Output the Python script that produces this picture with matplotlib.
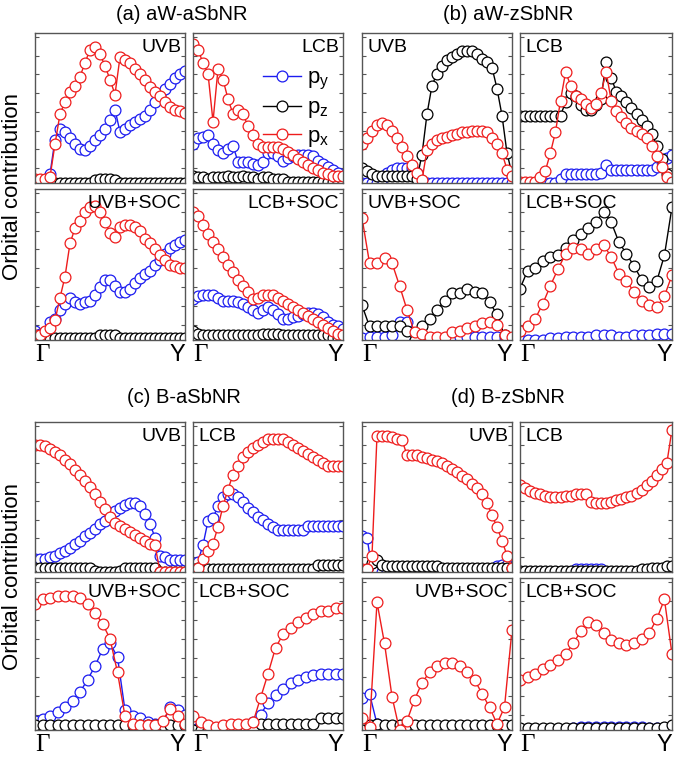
import matplotlib
matplotlib.use("Agg")
import matplotlib.pyplot as plt
import numpy as np

plt.rcParams['font.family'] = ['Liberation Sans', 'DejaVu Sans']
plt.rcParams['mathtext.default'] = 'regular'

# ---- data (relative orbital weight, 0..1 of panel height) ----
# (a) aW-aSbNR
a_uvb_py = [0.0, 0.0, 0.0, 0.06, 0.29, 0.36, 0.34, 0.30, 0.26, 0.23, 0.22, 0.25, 0.29, 0.32, 0.36, 0.42,
            0.49, 0.34, 0.36, 0.39, 0.41, 0.43, 0.45, 0.49, 0.54, 0.59, 0.63, 0.66, 0.70, 0.73, 0.75]
a_uvb_pz = [0.01, 0.01, 0.01, 0.01, 0.0, 0.0, 0.0, 0.0, 0.0, 0.0, 0.0, 0.0, 0.02, 0.03, 0.03, 0.03,
            0.02, 0.0, 0.0, 0.0, 0.0, 0.0, 0.0, 0.0, 0.0, 0.0, 0.0, 0.0, 0.0, 0.0, 0.0]
a_uvb_px = [0.03, 0.03, 0.03, 0.04, 0.26, 0.46, 0.54, 0.61, 0.65, 0.71, 0.80, 0.89, 0.91, 0.86, 0.78, 0.69,
            0.59, 0.84, 0.82, 0.80, 0.76, 0.73, 0.69, 0.64, 0.61, 0.58, 0.54, 0.51, 0.49, 0.48, 0.47]

a_lcb_py = [0.26, 0.30, 0.31, 0.32, 0.26, 0.22, 0.20, 0.23, 0.25, 0.14, 0.14, 0.14, 0.13, 0.12, 0.14, 0.20,
            0.20, 0.18, 0.15, 0.17, 0.18, 0.19, 0.19, 0.19, 0.18, 0.15, 0.13, 0.11, 0.09, 0.07, 0.04]
a_lcb_pz = [0.05, 0.04, 0.04, 0.03, 0.04, 0.04, 0.04, 0.05, 0.04, 0.04, 0.05, 0.04, 0.04, 0.03, 0.04, 0.04,
            0.03, 0.03, 0.03, 0.01, 0.01, 0.01, 0.01, 0.01, 0.01, 0.01, 0.01, 0.01, 0.01, 0.01, 0.01]
a_lcb_px = [0.93, 0.89, 0.80, 0.73, 0.41, 0.76, 0.69, 0.56, 0.46, 0.49, 0.46, 0.38, 0.32, 0.26, 0.24, 0.24,
            0.24, 0.24, 0.23, 0.21, 0.19, 0.16, 0.14, 0.12, 0.10, 0.09, 0.07, 0.06, 0.05, 0.05, 0.05]

a_uvbs_py = [0.06, 0.04, 0.05, 0.12, 0.14, 0.20, 0.24, 0.28, 0.25, 0.24, 0.25, 0.26, 0.30, 0.35, 0.40, 0.40,
             0.36, 0.32, 0.32, 0.34, 0.38, 0.41, 0.44, 0.46, 0.50, 0.53, 0.57, 0.61, 0.63, 0.65, 0.66]
a_uvbs_pz = [0.0, 0.0, 0.0, 0.0, 0.01, 0.01, 0.01, 0.01, 0.01, 0.01, 0.01, 0.01, 0.01, 0.03, 0.03, 0.03,
             0.03, 0.01, 0.01, 0.01, 0.01, 0.01, 0.01, 0.01, 0.01, 0.01, 0.01, 0.01, 0.01, 0.01, 0.01]
a_uvbs_px = [0.03, 0.03, 0.06, 0.08, 0.13, 0.28, 0.42, 0.64, 0.74, 0.79, 0.85, 0.88, 0.89, 0.85, 0.78, 0.71,
             0.68, 0.75, 0.76, 0.76, 0.75, 0.72, 0.67, 0.64, 0.60, 0.56, 0.53, 0.50, 0.49, 0.48, 0.48]

a_lcbs_py = [0.27, 0.29, 0.30, 0.30, 0.30, 0.28, 0.26, 0.26, 0.26, 0.25, 0.24, 0.22, 0.20, 0.18, 0.20, 0.22,
             0.20, 0.17, 0.14, 0.14, 0.15, 0.16, 0.17, 0.18, 0.18, 0.17, 0.15, 0.12, 0.10, 0.09, 0.07]
a_lcbs_pz = [0.06, 0.04, 0.03, 0.03, 0.03, 0.03, 0.03, 0.03, 0.03, 0.03, 0.03, 0.03, 0.03, 0.03, 0.04, 0.04,
             0.04, 0.04, 0.03, 0.03, 0.03, 0.03, 0.03, 0.03, 0.03, 0.03, 0.03, 0.03, 0.01, 0.01, 0.01]
a_lcbs_px = [0.85, 0.82, 0.76, 0.70, 0.65, 0.60, 0.55, 0.50, 0.45, 0.40, 0.36, 0.32, 0.27, 0.28, 0.30, 0.30,
             0.30, 0.28, 0.26, 0.24, 0.22, 0.20, 0.18, 0.16, 0.14, 0.12, 0.10, 0.08, 0.06, 0.04, 0.03]

# (b) aW-zSbNR
b_uvb_py = [0.0, 0.0, 0.0, 0.0, 0.03, 0.07, 0.09, 0.10, 0.10, 0.10, 0.10, 0.07, 0.0, 0.0, 0.0, 0.0,
            0.0, 0.0, 0.0, 0.0, 0.0, 0.0, 0.0, 0.0, 0.0, 0.0, 0.0, 0.0, 0.0, 0.0, 0.0]
b_uvb_pz = [0.10, 0.08, 0.06, 0.05, 0.05, 0.05, 0.05, 0.05, 0.05, 0.05, 0.05, 0.03, 0.19, 0.46, 0.65, 0.73,
            0.78, 0.82, 0.84, 0.86, 0.88, 0.88, 0.88, 0.86, 0.83, 0.81, 0.77, 0.63, 0.45, 0.20, 0.06]
b_uvb_px = [0.26, 0.30, 0.35, 0.39, 0.40, 0.39, 0.35, 0.30, 0.24, 0.18, 0.12, 0.07, 0.02, 0.22, 0.26, 0.29,
            0.30, 0.31, 0.32, 0.33, 0.34, 0.34, 0.35, 0.35, 0.35, 0.34, 0.30, 0.26, 0.20, 0.09, 0.05]

b_lcb_py = [0.0, 0.0, 0.0, 0.0, 0.0, 0.0, 0.0, 0.0, 0.03, 0.06, 0.06, 0.06, 0.06, 0.06, 0.06, 0.06,
            0.07, 0.12, 0.09, 0.09, 0.09, 0.09, 0.09, 0.09, 0.09, 0.09, 0.09, 0.11, 0.14, 0.17, 0.19]
b_lcb_pz = [0.45, 0.45, 0.45, 0.45, 0.45, 0.45, 0.45, 0.45, 0.45, 0.54, 0.60, 0.58, 0.52, 0.49, 0.49, 0.52,
            0.56, 0.81, 0.70, 0.61, 0.58, 0.54, 0.50, 0.46, 0.42, 0.38, 0.33, 0.25, 0.16, 0.06, 0.02]
b_lcb_px = [0.01, 0.01, 0.01, 0.01, 0.04, 0.08, 0.20, 0.34, 0.55, 0.74, 0.65, 0.58, 0.56, 0.53, 0.50, 0.53,
            0.60, 0.74, 0.55, 0.48, 0.44, 0.40, 0.37, 0.35, 0.33, 0.30, 0.25, 0.18, 0.11, 0.04, 0.01]

b_uvbs_py = [0.01, 0.02, 0.02, 0.02, 0.03, 0.12, 0.12, 0.0, 0.0, 0.0, 0.0, 0.0, 0.0, 0.02, 0.02, 0.02,
             0.02, 0.02, 0.02, 0.01, 0.0]
b_uvbs_pz = [0.23, 0.09, 0.09, 0.09, 0.09, 0.09, 0.06, 0.0, 0.09, 0.14, 0.20, 0.26, 0.31, 0.31, 0.34, 0.32,
             0.31, 0.25, 0.17, 0.03, 0.0]
b_uvbs_px = [0.81, 0.51, 0.51, 0.54, 0.51, 0.36, 0.20, 0.05, 0.04, 0.02, 0.02, 0.02, 0.05, 0.06, 0.08, 0.09,
             0.11, 0.12, 0.10, 0.03, 0.02]

b_lcbs_py = [0.0, 0.0, 0.0, 0.0, 0.01, 0.01, 0.02, 0.02, 0.02, 0.02, 0.03, 0.03, 0.03, 0.02, 0.02, 0.03,
             0.03, 0.03, 0.04, 0.04, 0.04]
b_lcbs_pz = [0.34, 0.46, 0.48, 0.52, 0.55, 0.56, 0.61, 0.66, 0.70, 0.74, 0.78, 0.85, 0.78, 0.65, 0.57, 0.49,
             0.40, 0.35, 0.39, 0.56, 0.88]
b_lcbs_px = [0.06, 0.09, 0.14, 0.24, 0.36, 0.47, 0.57, 0.61, 0.60, 0.57, 0.60, 0.63, 0.55, 0.44, 0.39, 0.32,
             0.26, 0.23, 0.22, 0.29, 0.43]

# (c) B-aSbNR
c_uvb_py = [0.09, 0.09, 0.09, 0.10, 0.11, 0.13, 0.14, 0.16, 0.19, 0.21, 0.24, 0.26, 0.29, 0.32, 0.34, 0.38,
            0.41, 0.43, 0.45, 0.46, 0.46, 0.44, 0.39, 0.32, 0.23, 0.11, 0.10, 0.08, 0.08, 0.08, 0.08]
c_uvb_pz = [0.03, 0.03, 0.03, 0.03, 0.03, 0.03, 0.03, 0.03, 0.03, 0.03, 0.03, 0.03, 0.01, 0.0, 0.0, 0.0,
            0.0, 0.01, 0.03, 0.03, 0.03, 0.03, 0.03, 0.03, 0.03, 0.0, 0.0, 0.0, 0.0, 0.0, 0.0]
c_uvb_px = [0.85, 0.85, 0.84, 0.82, 0.80, 0.78, 0.75, 0.72, 0.68, 0.65, 0.61, 0.57, 0.52, 0.47, 0.42, 0.37,
            0.33, 0.31, 0.29, 0.27, 0.25, 0.23, 0.21, 0.19, 0.18, 0.0, 0.0, 0.0, 0.0, 0.0, 0.0]

c_lcb_py = [0.03, 0.07, 0.18, 0.34, 0.36, 0.44, 0.50, 0.52, 0.52, 0.50, 0.47, 0.43, 0.40, 0.37, 0.35, 0.32,
            0.30, 0.28, 0.28, 0.28, 0.28, 0.28, 0.28, 0.31, 0.31, 0.31, 0.31, 0.31, 0.31, 0.31, 0.31]
c_lcb_pz = [0.02, 0.03, 0.0, 0.02, 0.02, 0.02, 0.02, 0.02, 0.02, 0.02, 0.02, 0.02, 0.02, 0.02, 0.02, 0.02,
            0.02, 0.02, 0.02, 0.02, 0.02, 0.02, 0.02, 0.02, 0.02, 0.05, 0.05, 0.05, 0.05, 0.05, 0.05]
c_lcb_px = [0.01, 0.03, 0.09, 0.14, 0.19, 0.30, 0.44, 0.55, 0.65, 0.71, 0.77, 0.80, 0.83, 0.85, 0.87, 0.89,
            0.89, 0.89, 0.89, 0.87, 0.85, 0.83, 0.81, 0.79, 0.77, 0.75, 0.73, 0.71, 0.71, 0.71, 0.71]

c_uvbs_py = [0.06, 0.07, 0.09, 0.12, 0.15, 0.19, 0.25, 0.33, 0.42, 0.53, 0.57, 0.48, 0.13, 0.09, 0.08, 0.05,
             0.04, 0.04, 0.15, 0.13, 0.10]
c_uvbs_pz = [0.03, 0.03, 0.03, 0.03, 0.03, 0.03, 0.03, 0.03, 0.03, 0.03, 0.03, 0.03, 0.03, 0.03, 0.03, 0.03,
             0.03, 0.03, 0.03, 0.03, 0.03]
c_uvbs_px = [0.83, 0.86, 0.87, 0.88, 0.88, 0.88, 0.87, 0.83, 0.77, 0.70, 0.60, 0.38, 0.09, 0.04, 0.03, 0.03,
             0.03, 0.06, 0.14, 0.09, 0.04]

c_lcbs_py = [0.07, 0.04, 0.02, 0.01, 0.01, 0.01, 0.01, 0.02, 0.05, 0.10, 0.18, 0.23, 0.27, 0.31, 0.33, 0.35,
             0.36, 0.37, 0.37, 0.37, 0.37]
c_lcbs_pz = [0.0, 0.0, 0.0, 0.0, 0.0, 0.0, 0.0, 0.0, 0.01, 0.04, 0.04, 0.04, 0.04, 0.04, 0.04, 0.04,
             0.04, 0.08, 0.08, 0.08, 0.08]
c_lcbs_px = [0.09, 0.05, 0.03, 0.02, 0.03, 0.04, 0.04, 0.04, 0.05, 0.21, 0.37, 0.54, 0.63, 0.67, 0.71, 0.74,
             0.76, 0.78, 0.78, 0.80, 0.80]

# (d) B-zSbNR
d_uvb_py = [0.24, 0.23, 0.02, 0.0, 0.0, 0.0, 0.0, 0.0, 0.0, 0.0, 0.0, 0.0, 0.0, 0.0, 0.0, 0.0,
            0.0, 0.0, 0.0, 0.0, 0.0, 0.0, 0.0, 0.0, 0.0, 0.0, 0.0, 0.04, 0.05, 0.05, 0.03]
d_uvb_pz = [0.0, 0.02, 0.06, 0.08, 0.05, 0.04, 0.04, 0.04, 0.04, 0.04, 0.04, 0.04, 0.04, 0.04, 0.04, 0.04,
            0.03, 0.03, 0.03, 0.03, 0.03, 0.03, 0.03, 0.03, 0.03, 0.03, 0.03, 0.03, 0.03, 0.03, 0.03]
d_uvb_px = [0.02, 0.02, 0.11, 0.91, 0.91, 0.91, 0.90, 0.89, 0.88, 0.78, 0.78, 0.78, 0.77, 0.76, 0.75, 0.74,
            0.73, 0.71, 0.69, 0.67, 0.64, 0.62, 0.59, 0.56, 0.52, 0.46, 0.38, 0.30, 0.21, 0.11, 0.03]

d_lcb_py = [0.0, 0.0, 0.0, 0.0, 0.0, 0.0, 0.0, 0.0, 0.0, 0.0, 0.0, 0.02, 0.02, 0.02, 0.02, 0.02,
            0.02, 0.0, 0.0, 0.0, 0.0, 0.0, 0.0, 0.0, 0.0, 0.0, 0.0, 0.0, 0.0, 0.0, 0.0]
d_lcb_pz = [0.01, 0.01, 0.01, 0.01, 0.01, 0.01, 0.01, 0.01, 0.01, 0.01, 0.01, 0.01, 0.01, 0.01, 0.01, 0.01,
            0.01, 0.01, 0.01, 0.01, 0.01, 0.01, 0.01, 0.01, 0.02, 0.02, 0.03, 0.03, 0.03, 0.04, 0.04]
d_lcb_px = [0.58, 0.56, 0.54, 0.53, 0.52, 0.51, 0.50, 0.50, 0.50, 0.51, 0.51, 0.52, 0.52, 0.52, 0.47, 0.46,
            0.46, 0.46, 0.47, 0.48, 0.49, 0.50, 0.51, 0.53, 0.55, 0.58, 0.61, 0.65, 0.69, 0.73, 0.95]

d_uvbs_py = [0.21, 0.24, 0.04, 0.0, 0.0, 0.0, 0.0, 0.0, 0.0, 0.0, 0.0, 0.0, 0.0, 0.0, 0.0, 0.0,
             0.0, 0.0, 0.0, 0.0, 0.0]
d_uvbs_pz = [0.0, 0.03, 0.04, 0.03, 0.03, 0.03, 0.03, 0.03, 0.03, 0.03, 0.03, 0.03, 0.03, 0.03, 0.03, 0.03,
             0.03, 0.03, 0.03, 0.03, 0.03]
d_uvbs_px = [0.08, 0.02, 0.84, 0.57, 0.22, 0.0, 0.06, 0.20, 0.31, 0.38, 0.42, 0.44, 0.44, 0.42, 0.38, 0.33,
             0.24, 0.15, 0.04, 0.15, 0.66]

d_lcbs_py = [0.0, 0.0, 0.0, 0.0, 0.0, 0.0, 0.0, 0.01, 0.02, 0.02, 0.02, 0.02, 0.02, 0.02, 0.02, 0.02,
             0.02, 0.01, 0.01, 0.01, 0.01]
d_lcbs_pz = [0.01, 0.01, 0.01, 0.01, 0.01, 0.01, 0.01, 0.01, 0.01, 0.01, 0.01, 0.01, 0.01, 0.01, 0.01, 0.01,
             0.01, 0.01, 0.01, 0.02, 0.03]
d_lcbs_px = [0.33, 0.35, 0.37, 0.40, 0.43, 0.46, 0.50, 0.57, 0.65, 0.71, 0.69, 0.64, 0.59, 0.57, 0.56, 0.57,
             0.60, 0.64, 0.73, 0.86, 0.50]

group_titles = ['(a) aW-aSbNR', '(b) aW-zSbNR', '(c) B-aSbNR', '(d) B-zSbNR']
orbital_names = ['p$_y$', 'p$_z$', 'p$_x$']
orbital_colors = ['#1c1cf0', 'black', '#ee1c1c']

W, H = 675, 757
fig = plt.figure(figsize=(W / 100, H / 100), dpi=100)

col_left = [35, 193, 362, 520]
col_w = [150, 150, 150, 152]
row_top = [33, 189, 422, 578]
row_h = [150, 151, 150, 152]


def make_ax(r, c):
    x0 = col_left[c] / W
    y0 = (H - row_top[r] - row_h[r]) / H
    ax = fig.add_axes([x0, y0, col_w[c] / W, row_h[r] / H])
    return ax


def panel(r, c, py, pz, px, label, side, xlab=False):
    ax = make_ax(r, c)
    lines = []
    for vals, col, name in zip([py, pz, px], orbital_colors, orbital_names):
        x = np.linspace(0, 1, len(vals))
        ln, = ax.plot(x, vals, '-o', color=col, lw=1.0, ms=7.8, mfc='white', mec=col, mew=0.9, label=name)
        lines.append(ln)
    ax.set_xlim(0, 1)
    ax.set_ylim(0, 1)
    ax.set_xticks([])
    ax.set_yticks(np.arange(0.1, 1.0, 0.125))
    ax.tick_params(axis='y', direction='in', length=3, width=0.8, color='#555555',
                   left=True, right=True, labelleft=False)
    for s in ax.spines.values():
        s.set_color('#555555')
        s.set_linewidth(1.0)
    if side == 'right':
        ax.text(0.975, 0.96, label, transform=ax.transAxes, ha='right', va='top', fontsize=14)
    else:
        ax.text(0.035, 0.96, label, transform=ax.transAxes, ha='left', va='top', fontsize=14)
    if xlab:
        ax.text(0.0, -0.14, '\u0393', transform=ax.transAxes, ha='left', va='baseline',
                fontsize=18, family=['Liberation Serif', 'DejaVu Serif'])
        ax.text(1.0, -0.14, 'Y', transform=ax.transAxes, ha='right', va='baseline', fontsize=17)
    return ax, lines


# group (a)
panel(0, 0, a_uvb_py, a_uvb_pz, a_uvb_px, 'UVB', 'right')
ax_leg, leg_lines = panel(0, 1, a_lcb_py, a_lcb_pz, a_lcb_px, 'LCB', 'right')
panel(1, 0, a_uvbs_py, a_uvbs_pz, a_uvbs_px, 'UVB+SOC', 'right', True)
panel(1, 1, a_lcbs_py, a_lcbs_pz, a_lcbs_px, 'LCB+SOC', 'right', True)
# group (b)
panel(0, 2, b_uvb_py, b_uvb_pz, b_uvb_px, 'UVB', 'left')
panel(0, 3, b_lcb_py, b_lcb_pz, b_lcb_px, 'LCB', 'left')
panel(1, 2, b_uvbs_py, b_uvbs_pz, b_uvbs_px, 'UVB+SOC', 'left', True)
panel(1, 3, b_lcbs_py, b_lcbs_pz, b_lcbs_px, 'LCB+SOC', 'left', True)
# group (c)
panel(2, 0, c_uvb_py, c_uvb_pz, c_uvb_px, 'UVB', 'right')
panel(2, 1, c_lcb_py, c_lcb_pz, c_lcb_px, 'LCB', 'left')
panel(3, 0, c_uvbs_py, c_uvbs_pz, c_uvbs_px, 'UVB+SOC', 'right', True)
panel(3, 1, c_lcbs_py, c_lcbs_pz, c_lcbs_px, 'LCB+SOC', 'left', True)
# group (d)
panel(2, 2, d_uvb_py, d_uvb_pz, d_uvb_px, 'UVB', 'right')
panel(2, 3, d_lcb_py, d_lcb_pz, d_lcb_px, 'LCB', 'left')
panel(3, 2, d_uvbs_py, d_uvbs_pz, d_uvbs_px, 'UVB+SOC', 'right', True)
panel(3, 3, d_lcbs_py, d_lcbs_pz, d_lcbs_px, 'LCB+SOC', 'left', True)

ax_leg.legend(handles=leg_lines, loc='upper right', bbox_to_anchor=(1.0, 0.86), frameon=False,
              fontsize=16, handlelength=1.7, handletextpad=0.3, labelspacing=0.25, borderaxespad=0.2)

# group titles
title_pos = [(182, 15), (508, 15), (184, 398), (508, 398)]
for t, (tx, ty) in zip(group_titles, title_pos):
    fig.text(tx / W, 1 - ty / H, t, ha='center', va='center', fontsize=14.5)

for yc in [186, 576]:
    fig.text(13 / W, 1 - yc / H, 'Orbital contribution', rotation=90, ha='center', va='center', fontsize=16)

fig.savefig('out.png', dpi=100)
